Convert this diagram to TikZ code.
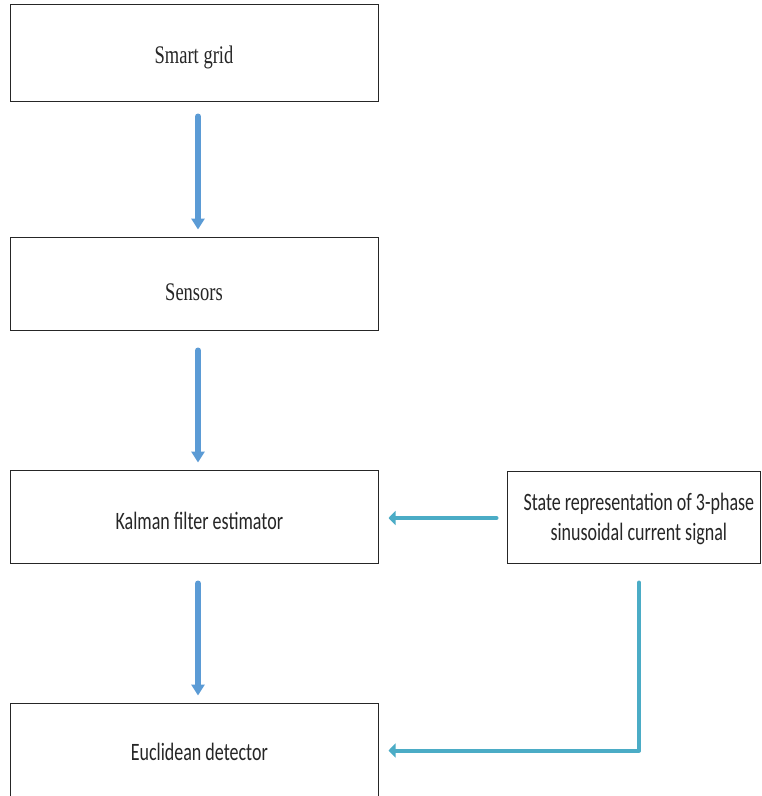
\documentclass[tikz,border=0pt]{standalone}
\usepackage{fontspec}
\setmainfont{Carlito}[FakeStretch=0.72]
\newfontfamily\serifface{Liberation Serif}[FakeStretch=0.73]
\usetikzlibrary{arrows.meta}

\definecolor{flowblue}{HTML}{5B9BD5}
\definecolor{feedteal}{HTML}{4BACC6}
\definecolor{inkgray}{HTML}{262626}

% left padding that nudges a label a little to the right inside its box
\newcommand{\nudge}{\hspace*{8pt}}

\tikzset{
  box/.style={draw=black!85, line width=0.75pt, inner sep=0pt, text depth=0pt,
    text=inkgray, minimum width=276pt, font=\fontsize{18.75}{22.5}\selectfont},
  serifbox/.style={box, font=\serifface\fontsize{19}{22.5}\selectfont},
  downflow/.style={draw=flowblue, line width=4.5pt, line cap=round,
    -{Triangle[length=8.25pt,width=9.75pt]}},
  feedflow/.style={draw=feedteal, line width=3pt, line cap=round, line join=round,
    -{Triangle[length=5.25pt,width=10.5pt]}}
}

\begin{document}
\begin{tikzpicture}[x=0.75pt, y=-0.75pt]
  \useasboundingbox[fill=white] (0,0) rectangle (761,796);
  \clip (0,0) rectangle (761,796);

  % main chain of blocks
  \node[serifbox, minimum height=72.75pt, text height=15.75pt] (grid) at (194,52.5) {Smart grid};
  \node[serifbox, minimum height=69.75pt, text height=24.75pt] (sens) at (194,283.5) {Sensors};
  \node[box, minimum height=69.75pt, text height=18.75pt] (kalm) at (194,516.5) {\nudge Kalman filter estimator};
  \node[box, minimum height=71.25pt, text height=14.25pt] (eucl) at (194,750.5) {\nudge Euclidean detector};

  % side block with the signal model
  \node[box, minimum width=189.75pt, minimum height=69pt, align=center] (state) at (633.5,517)
    {\nudge State representation of 3-phase\\\nudge sinusoidal current signal};

  % downward flow
  \draw[downflow, shorten <=11.25pt, shorten >=5.25pt]
    ([xshift=3pt]grid.south) -- ([xshift=3pt]sens.north);
  \draw[downflow, shorten <=15pt, shorten >=5.25pt]
    ([xshift=3pt]sens.south) -- ([xshift=3pt]kalm.north);
  \draw[downflow, shorten <=15pt, shorten >=5.25pt]
    ([xshift=3pt]kalm.south) -- ([xshift=3pt]eucl.north);

  % signal model feeding the estimator and the detector
  \draw[feedflow, shorten <=7.5pt, shorten >=7.5pt]
    ([yshift=-0.75pt]state.west) -- ([yshift=-0.75pt]state.west -| kalm.east);
  \draw[feedflow, shorten <=14.25pt, shorten >=7.5pt]
    ([xshift=4.125pt]state.south) |- (eucl.east);
\end{tikzpicture}
\end{document}
